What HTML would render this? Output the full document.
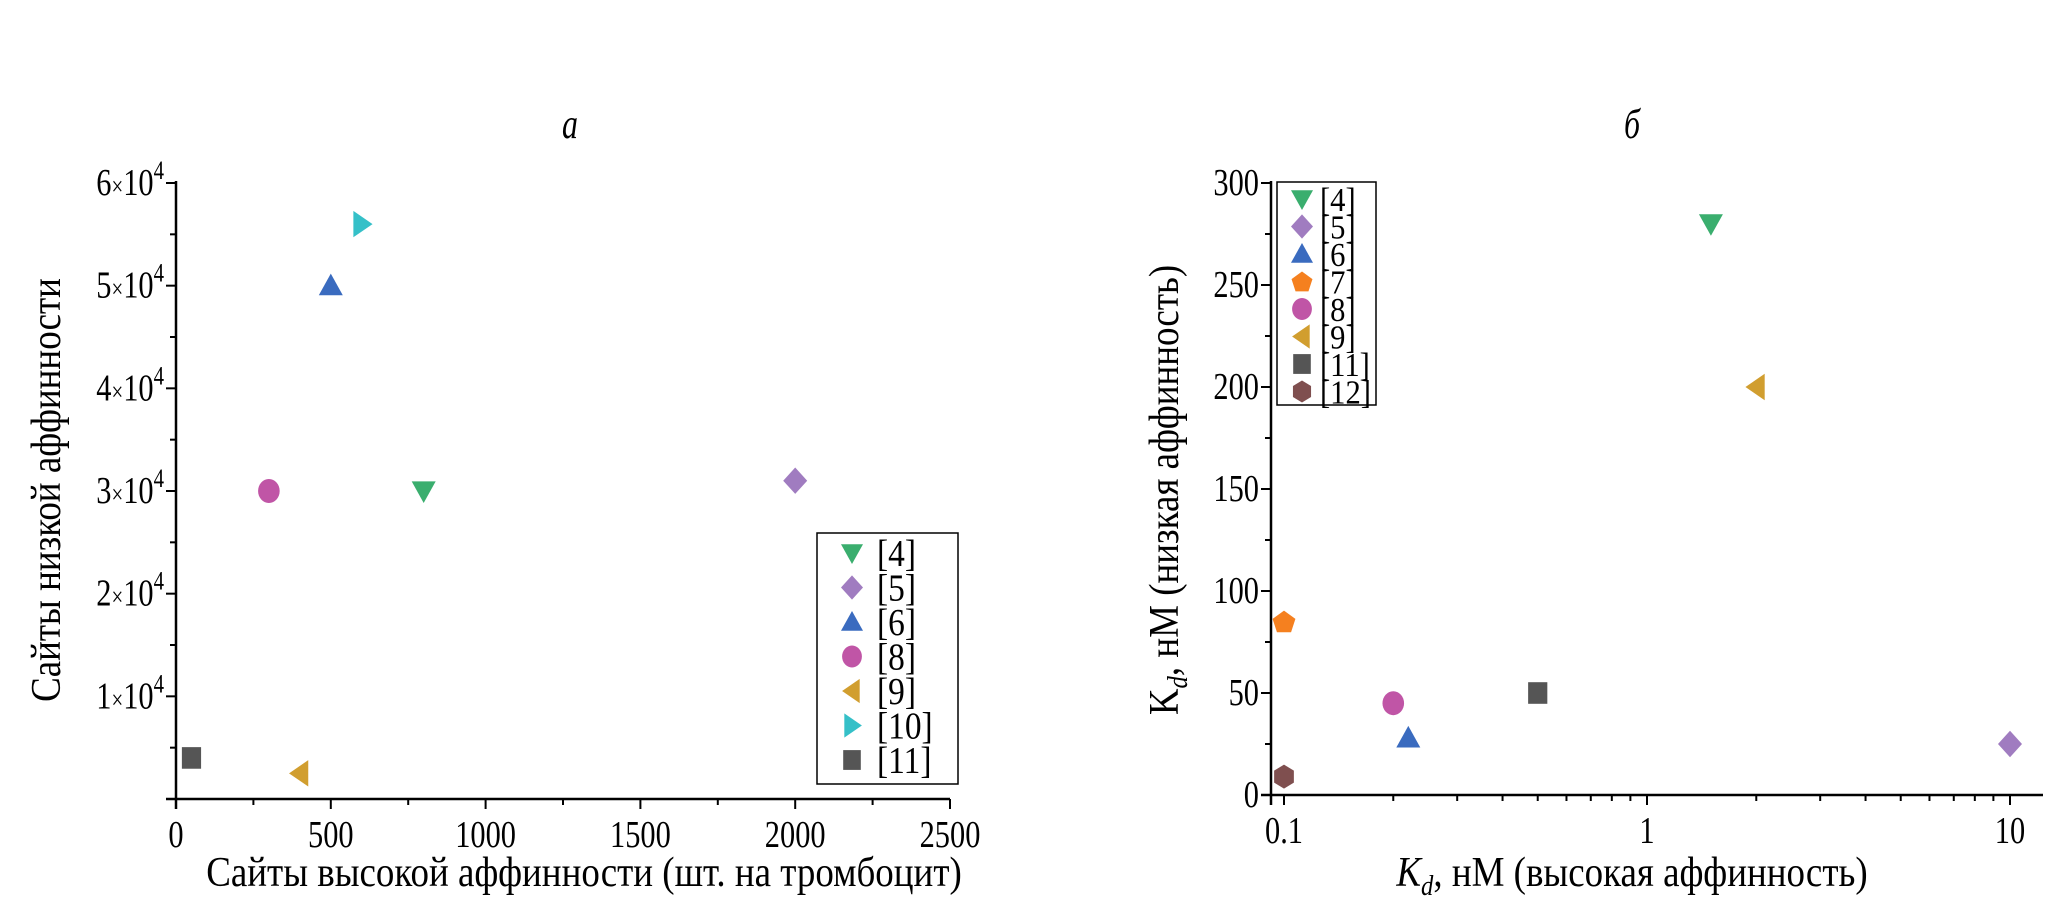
<!DOCTYPE html>
<html><head><meta charset="utf-8"><style>
html,body{margin:0;padding:0;background:#fff;}
svg{display:block;font-family:"Liberation Serif",serif;}
</style></head><body>
<svg id="s" width="2067" height="916" viewBox="0 0 2067 916"></svg>
<script>
// Panel a data
const aLabels = ["[4]","[5]","[6]","[8]","[9]","[10]","[11]"];
const aX = [800, 2000, 500, 300, 400, 600, 50];
const aY = [30000, 31000, 50000, 30000, 2500, 56000, 4000];
const aShapes = ["tdown","diamond","tup","circle","tleft","tright","square"];
const aXTicks = [0,500,1000,1500,2000,2500];
const aYTicks = [10000,20000,30000,40000,50000,60000];
const aYTickLabels = ["1","2","3","4","5","6"];
// Panel b data
const bLabels = ["[4]","[5]","[6]","[7]","[8]","[9]","[11]","[12]"];
const bX = [1.5, 10, 0.22, 0.1, 0.2, 2, 0.5, 0.1];
const bY = [280, 25, 28, 85, 45, 200, 50, 9];
const bShapes = ["tdown","diamond","tup","pent","circle","tleft","square","hex"];
const bXTicks = [0.1, 1, 10];
const bXTickLabels = ["0.1","1","10"];
const bYTicks = [0,50,100,150,200,250,300];

const colors = {"[4]":"#3aae6e","[5]":"#a07cc0","[6]":"#3a6bbf","[7]":"#f5801f","[8]":"#c055a6","[9]":"#d19e2f","[10]":"#35c0c8","[11]":"#555555","[12]":"#7f4f4f"};
const NS="http://www.w3.org/2000/svg";
const svg=document.getElementById('s');
function mk(tag,attrs,parent){const e=document.createElementNS(NS,tag);for(const k in attrs)e.setAttribute(k,attrs[k]);(parent||svg).appendChild(e);return e;}
function marker(shape,cx,cy,r,fill,parent){
  let pts;
  if(shape==="circle"){return mk('ellipse',{cx:cx,cy:cy,rx:r*0.9,ry:r,fill:fill},parent);}
  if(shape==="square"){return mk('rect',{x:cx-r*0.8,y:cy-r*0.9,width:r*1.6,height:r*1.8,fill:fill},parent);}
  if(shape==="tdown")pts=[[cx-r,cy-r*0.8],[cx+r,cy-r*0.8],[cx,cy+r]];
  if(shape==="tup")pts=[[cx-r,cy+r*0.8],[cx+r,cy+r*0.8],[cx,cy-r]];
  if(shape==="tleft")pts=[[cx+r*0.7,cy-r*1.1],[cx+r*0.7,cy+r*1.1],[cx-r*0.9,cy]];
  if(shape==="tright")pts=[[cx-r*0.7,cy-r*1.1],[cx-r*0.7,cy+r*1.1],[cx+r*0.9,cy]];
  if(shape==="diamond")pts=[[cx,cy-r*1.1],[cx+r,cy],[cx,cy+r*1.1],[cx-r,cy]];
  if(shape==="pent"){pts=[];for(let i=0;i<5;i++){const a=-Math.PI/2+i*2*Math.PI/5;pts.push([cx+r*Math.cos(a),cy+r*Math.sin(a)+1]);}}
  if(shape==="hex"){pts=[];for(let i=0;i<6;i++){const a=-Math.PI/2+i*Math.PI/3;pts.push([cx+r*0.95*Math.cos(a),cy+r*Math.sin(a)]);}}
  return mk('polygon',{points:pts.map(p=>p.join(',')).join(' '),fill:fill},parent);
}
function ctext(html,x,y,size,anchor,parent,rot,sx){
  const g=mk('g',{transform:'translate('+x+','+y+')'+(rot?' rotate('+rot+')':'')+' scale('+(sx||0.76)+',1)'},parent);
  const t=mk('text',{x:0,y:0,'font-size':size,'text-anchor':anchor||'start',fill:'#000'},g);
  t.innerHTML=html;return t;
}

// ---------- Panel a ----------
const aL=176,aR=950,aT=183,aB=799;
const ax=v=>aL+(v/2500)*(aR-aL);
const ay=v=>aB-(v/60000)*(aB-aT);
const ga=mk('g',{});


let e;
e=mk('line',{x1:aL,y1:aT-2,x2:aL,y2:aB+10,stroke:'#000','stroke-width':2.5},ga);

e=mk('line',{x1:aL-10,y1:aB,x2:aR,y2:aB,stroke:'#000','stroke-width':2.5},ga);

for(let v=0;v<=2500;v+=250){mk('line',{x1:ax(v),y1:aB,x2:ax(v),y2:aB+(v%500===0?10:6),stroke:'#000','stroke-width':2},ga);}
for(let v=0;v<=60000;v+=5000){mk('line',{x1:aL,y1:ay(v),x2:aL-(v%10000===0?10:6),y2:ay(v),stroke:'#000','stroke-width':2},ga);}
aXTicks.forEach(v=>{const t=ctext(String(v),ax(v),aB+48,38,'middle',ga,0,0.8);});
aYTicks.forEach((v,i)=>{const t=ctext(aYTickLabels[i]+'<tspan font-size="26">×</tspan>10<tspan font-size="26" dy="-16">4</tspan>',aL-12,ay(v)+12,38,'end',ga,0,0.8);
  });
e=ctext('а',570,138,42,'middle',ga);e.setAttribute('font-style','italic');

e=ctext('Сайты высокой аффинности (шт. на тромбоцит)',584,886,42,'middle',ga,0,0.88);

e=ctext('Сайты низкой аффинности',60,490,42,'middle',ga,-90,0.88);

aLabels.forEach((lab,i)=>{const m=marker(aShapes[i],ax(aX[i]),ay(aY[i]),12,colors[lab],ga);
  });
const lga=mk('g',{},ga);

mk('rect',{x:817,y:533,width:141,height:251,fill:'#fff',stroke:'#000','stroke-width':1.5},lga);
aLabels.forEach((lab,i)=>{const y=553+i*34.5;
  const g=mk('g',{},lga);
  marker(aShapes[i],852,y,11,colors[lab],g);ctext(lab,877,y+13,38,'start',g,0,0.88);});

// ---------- Panel b ----------
const bL=1271,bR=2043,bT=183,bB=795;
const b0=1284,dec=363;
const bx=v=>b0+Math.log10(v/0.1)*dec;
const by=v=>bB-(v/300)*(bB-bT);
const gb=mk('g',{});


e=mk('line',{x1:bL,y1:bT-2,x2:bL,y2:bB+10,stroke:'#000','stroke-width':2.5},gb);

e=mk('line',{x1:bL-10,y1:bB,x2:bR,y2:bB,stroke:'#000','stroke-width':2.5},gb);

for(let d=0.1;d<20;d*=10){for(let k=1;k<10;k++){const v=d*k;const px=bx(v);if(px>bR||px<bL)continue;
  mk('line',{x1:px,y1:bB,x2:px,y2:bB+(k===1?10:6),stroke:'#000','stroke-width':2},gb);}}
for(let v=0;v<=300;v+=25){mk('line',{x1:bL,y1:by(v),x2:bL-(v%50===0?10:6),y2:by(v),stroke:'#000','stroke-width':2},gb);}
bXTicks.forEach((v,i)=>{const t=ctext(bXTickLabels[i],bx(v),bB+48,38,'middle',gb,0,0.8);});
bYTicks.forEach(v=>{const t=ctext(String(v),bL-12,by(v)+12,38,'end',gb,0,0.8);});
e=ctext('б',1632,138,42,'middle',gb);e.setAttribute('font-style','italic');

e=ctext('<tspan font-style="italic">K</tspan><tspan font-style="italic" font-size="28" dy="9">d</tspan><tspan dy="-9">, нМ (высокая аффинность)</tspan>',1632,886,42,'middle',gb,0,0.88);

e=ctext('K<tspan font-style="italic" font-size="28" dy="9">d</tspan><tspan dy="-9">, нМ (низкая аффинность)</tspan>',1178,490,42,'middle',gb,-90,0.88);

bLabels.forEach((lab,i)=>{const m=marker(bShapes[i],bx(bX[i]),by(bY[i]),12,colors[lab],gb);
  });
const lgb=mk('g',{},gb);

mk('rect',{x:1277,y:182,width:99,height:223,fill:'#fff',stroke:'#000','stroke-width':1.5},lgb);
bLabels.forEach((lab,i)=>{const y=199+i*27.5;
  const g=mk('g',{},lgb);
  marker(bShapes[i],1302,y,11,colors[lab],g);ctext(lab,1320,y+12,34,'start',g,0,0.9);});
</script>
</body></html>
